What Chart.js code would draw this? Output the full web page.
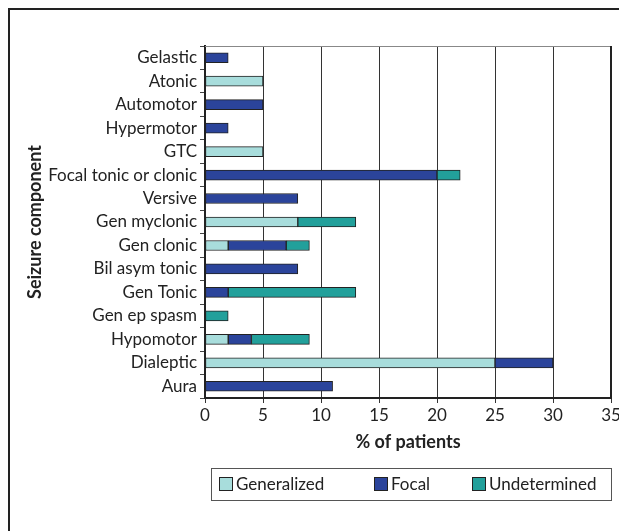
<!DOCTYPE html>
<html>
<head>
<meta charset="utf-8">
<script src="https://cdn.jsdelivr.net/npm/chart.js@4"></script>
<style>
  html, body { margin: 0; padding: 0; background: #fff; }
  #wrap { width: 619px; height: 531px; }
</style>
</head>
<body>
<div id="wrap"><canvas id="seizureChart" width="619" height="531"></canvas></div>
<script>
const categories = ['Gelastic', 'Atonic', 'Automotor', 'Hypermotor', 'GTC', 'Focal tonic or clonic',
    'Versive', 'Gen myclonic', 'Gen clonic', 'Bil asym tonic', 'Gen Tonic', 'Gen ep spasm',
    'Hypomotor', 'Dialeptic', 'Aura'];
const generalized  = [0, 5, 0, 0, 5, 0, 0, 8, 2, 0, 0, 0, 2, 25, 0];
const focal        = [2, 0, 5, 2, 0, 20, 8, 0, 5, 8, 2, 0, 2, 5, 11];
const undetermined = [0, 0, 0, 0, 0, 2, 0, 5, 2, 0, 11, 2, 5, 0, 0];
const xTicks = [0, 5, 10, 15, 20, 25, 30, 35];

const FONT = 'Lato, "Open Sans", sans-serif';
const dark = '#222222';

// frame round the figure, plot border, and the boxed legend under the axis
const framePlugin = {
    id: 'framePlugin',
    afterDraw(chart) {
        const c = chart.ctx;
        const a = chart.chartArea;
        c.save();
        c.strokeStyle = dark;
        c.lineWidth = 2;
        c.strokeRect(9, 9, 800, 800);

        c.lineWidth = 1;
        c.strokeStyle = '#888';
        c.beginPath();
        c.moveTo(a.left, a.top + 0.5);
        c.lineTo(a.right, a.top + 0.5);
        c.stroke();
        c.strokeStyle = dark;
        c.lineWidth = 2;
        c.beginPath();
        c.moveTo(a.right, a.top);
        c.lineTo(a.right, a.bottom);
        c.stroke();

        // legend
        c.lineWidth = 1;
        c.strokeStyle = '#555';
        c.strokeRect(211.5, 468.5, 400, 32);
        const itemX = [219, 374, 472];
        c.font = '17px ' + FONT;
        c.textBaseline = 'middle';
        chart.data.datasets.forEach((ds, i) => {
            c.fillStyle = ds.backgroundColor;
            c.fillRect(itemX[i], 477.5, 13, 13);
            c.strokeStyle = dark;
            c.strokeRect(itemX[i] + 0.5, 477.5, 13, 13);
            c.fillStyle = dark;
            c.fillText(ds.label, itemX[i] + 17, 485);
        });
        c.restore();
    }
};

const ctx = document.getElementById('seizureChart').getContext('2d');
const chart = new Chart(ctx, {
    type: 'bar',
    data: {
        labels: categories,
        datasets: [{
            label: 'Generalized',
            data: generalized,
            backgroundColor: '#A8DDDC',
            borderColor: dark,
            borderWidth: 1,
            borderSkipped: false
        }, {
            label: 'Focal',
            data: focal,
            backgroundColor: '#2B449B',
            borderColor: dark,
            borderWidth: 1,
            borderSkipped: false
        }, {
            label: 'Undetermined',
            data: undetermined,
            backgroundColor: '#22A09B',
            borderColor: dark,
            borderWidth: 1,
            borderSkipped: false
        }]
    },
    options: {
        indexAxis: 'y',
        responsive: false,
        animation: false,
        barThickness: 10,
        layout: { padding: { left: 20, right: 0, top: 46, bottom: 66 } },
        plugins: {
            tooltip: { enabled: false },
            legend: { display: false }
        },
        scales: {
            x: {
                stacked: true,
                min: 0,
                max: 35,
                afterBuildTicks(axis) {
                    axis.ticks = xTicks.map(v => ({ value: v }));
                },
                afterFit(axis) {
                    axis.height = 67;
                    axis.paddingRight = 8;
                    axis.paddingLeft = 0;
                },
                grid: {
                    color: '#333',
                    lineWidth: 1,
                    tickLength: 5,
                    drawTicks: true
                },
                border: { color: dark, width: 2 },
                ticks: { font: { family: FONT, size: 17 }, color: '#222', padding: 2, maxRotation: 0 },
                title: {
                    display: true,
                    text: '% of patients',
                    font: { family: FONT, size: 18, weight: 'bold' },
                    color: '#222',
                    padding: { top: 4, bottom: 12 }
                }
            },
            y: {
                stacked: true,
                afterFit(axis) { axis.width = 185; },
                grid: {
                    drawOnChartArea: false,
                    drawTicks: true,
                    tickLength: 5,
                    color: '#444',
                    offset: true
                },
                border: { color: dark, width: 2 },
                ticks: { font: { family: FONT, size: 17 }, color: '#222', padding: 3, autoSkip: false },
                title: {
                    display: true,
                    text: 'Seizure component',
                    font: { family: FONT, size: 18, weight: 'bold' },
                    color: '#222',
                    padding: { top: 4, bottom: 0 }
                }
            }
        }
    },
    plugins: [framePlugin]
});
</script>
</body>
</html>
